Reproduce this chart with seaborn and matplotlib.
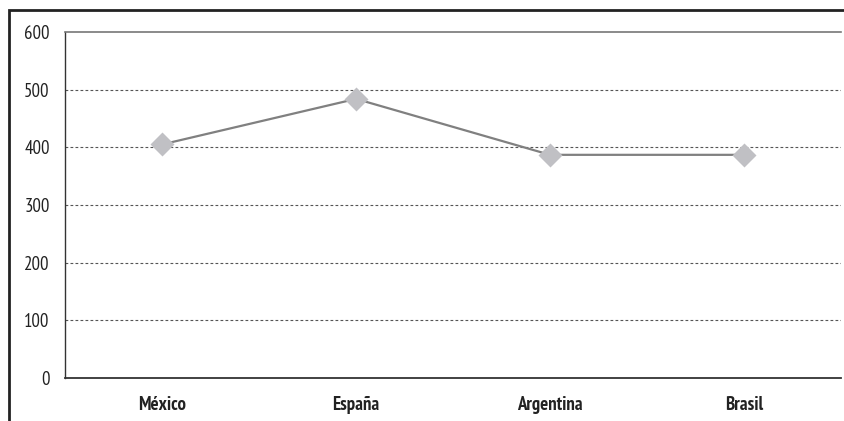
import matplotlib
matplotlib.use("Agg")
import matplotlib.pyplot as plt
import seaborn as sns
import pandas as pd
from matplotlib.patches import Rectangle

paises = ["México", "España", "Argentina", "Brasil"]
valores = [405, 484, 387, 387]
y_ticks = [0, 100, 200, 300, 400, 500, 600]

sns.set_theme(style="white")
plt.rcParams["font.family"] = ["PT Sans Narrow", "Roboto Condensed", "DejaVu Sans"]

df = pd.DataFrame({"pais": paises, "valor": valores})

fig = plt.figure(figsize=(8.45, 4.21), dpi=100)
ax = fig.add_axes([65 / 845, 1 - 378 / 421, 776 / 845, 346 / 421])

sns.pointplot(data=df, x="pais", y="valor", ax=ax, color="#808080",
              markers="D", linestyles="-", errorbar=None)
for line in ax.lines:
    line.set_linewidth(1.6)
    line.set_markersize(10.5)
    line.set_markerfacecolor("#c0c0c4")
    line.set_markeredgecolor("#c0c0c4")
for coll in ax.collections:
    coll.set_facecolor("#c0c0c4")
    coll.set_edgecolor("#c0c0c4")

ax.set_xlim(-0.5, 3.5)
ax.set_ylim(0, 600)
ax.set_yticks(y_ticks)
ax.set_yticklabels([str(v) for v in y_ticks], fontsize=13.5, color="#222222")
ax.set_xticks(range(len(paises)))
ax.set_xticklabels(paises, fontsize=13.5, fontweight="bold", color="#222222")
ax.set_xlabel("")
ax.set_ylabel("")
ax.tick_params(axis="y", length=0, pad=11)
ax.tick_params(axis="x", length=0, pad=13)

for v in y_ticks[1:-1]:
    ax.axhline(v, color="#555555", linestyle=(0, (2.5, 2)), linewidth=0.8, zorder=0)

ax.spines["right"].set_visible(False)
ax.spines["top"].set_color("#777777")
ax.spines["top"].set_linewidth(1.2)
ax.spines["left"].set_color("#333333")
ax.spines["left"].set_linewidth(1.0)
ax.spines["bottom"].set_color("#333333")
ax.spines["bottom"].set_linewidth(1.3)

# outer frame around the chart
fig.patches.append(Rectangle((9 / 845, -0.1), 1.2, 1.1 - 10 / 421,
                             transform=fig.transFigure, fill=False,
                             edgecolor="#222222", linewidth=2))

fig.savefig("out.png", dpi=100)
